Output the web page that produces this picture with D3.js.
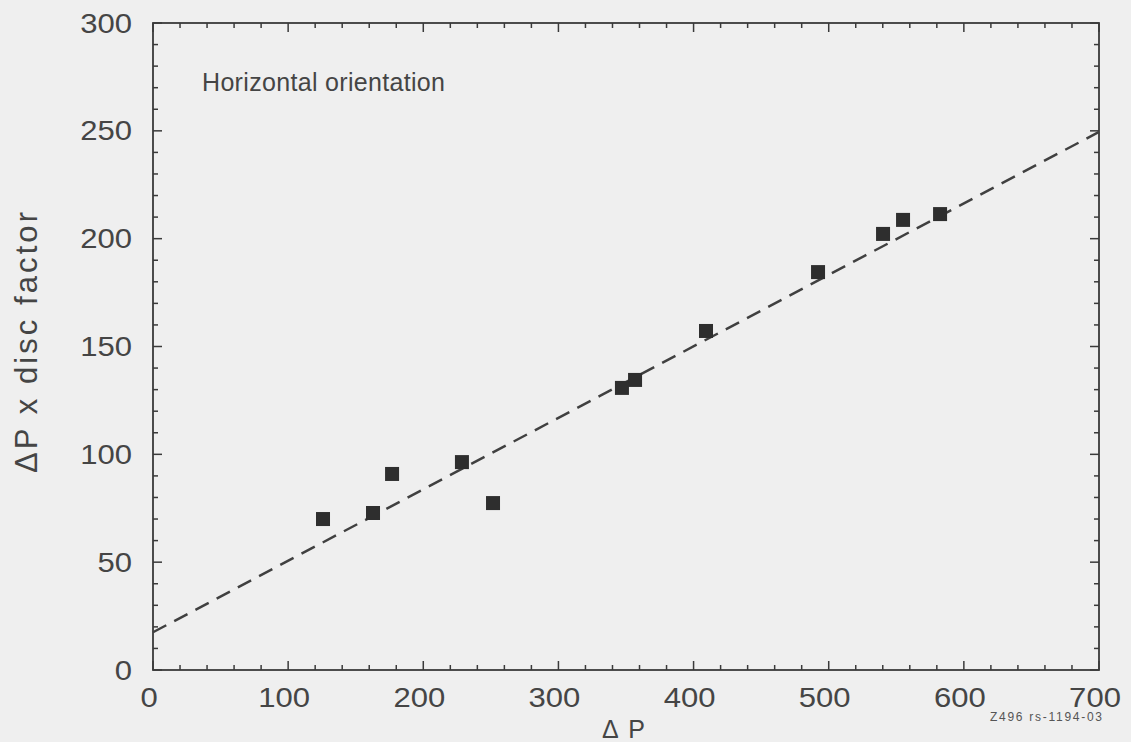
<!DOCTYPE html>
<html><head><meta charset="utf-8">
<script src="https://cdn.jsdelivr.net/npm/d3@7"></script>
<style>body{margin:0;background:#efefef;}svg{display:block;}</style>
</head><body>
<svg id="chart" width="1131" height="742"></svg>
<script>
const deltaP = [125.8, 162.8, 176.9, 228.6, 251.6, 347.0, 356.7, 409.2, 492.1, 540.2, 555.0, 582.4];
const dpDisc = [70.0, 72.8, 90.9, 96.4, 77.4, 130.8, 134.5, 157.2, 184.5, 202.2, 208.7, 211.4];
const fitX = [0, 700];
const fitY = [17.5, 249.5];
const xTicks = [0, 100, 200, 300, 400, 500, 600, 700];
const yTicks = [0, 50, 100, 150, 200, 250, 300];

const svg = d3.select("#chart");
const W = 1131, H = 742;
const m = {left:153, right:1099, top:23, bottom:670};
svg.append("rect").attr("width",W).attr("height",H).attr("fill","#efefef");

const x = d3.scaleLinear().domain([0,700]).range([m.left,m.right]);
const y = d3.scaleLinear().domain([0,300]).range([m.bottom,m.top]);
const ink = "#3a3a3a";
const txt = "#454545";
const font = "Liberation Sans, Arial, sans-serif";

// minor/major ticks inward on all four sides
const xMinor = d3.range(0,701,20), yMinor = d3.range(0,301,10);
const tg = svg.append("g").attr("stroke",ink).attr("stroke-width",1.5);
xMinor.forEach(v=>{
  const len = v%100===0 ? 9 : 5;
  tg.append("line").attr("x1",x(v)).attr("x2",x(v)).attr("y1",m.bottom).attr("y2",m.bottom-len);
  tg.append("line").attr("x1",x(v)).attr("x2",x(v)).attr("y1",m.top).attr("y2",m.top+len);
});
yMinor.forEach(v=>{
  const len = v%50===0 ? 9 : 5;
  tg.append("line").attr("y1",y(v)).attr("y2",y(v)).attr("x1",m.left).attr("x2",m.left+len);
  tg.append("line").attr("y1",y(v)).attr("y2",y(v)).attr("x1",m.right).attr("x2",m.right-len);
});
svg.append("rect").attr("x",m.left).attr("y",m.top).attr("width",m.right-m.left).attr("height",m.bottom-m.top)
  .attr("fill","none").attr("stroke",ink).attr("stroke-width",1.8);

// tick labels (slightly wide, as in the scan)
svg.append("g").selectAll("text").data(xTicks).join("text")
  .attr("transform",d=>`translate(${x(d)-4},707) scale(1.15,1)`).attr("text-anchor","middle")
  .attr("font-family",font).attr("font-size",27).attr("fill",txt).text(d=>d);
svg.append("g").selectAll("text").data(yTicks).join("text")
  .attr("transform",d=>`translate(132,${y(d)+9.5}) scale(1.15,1)`).attr("text-anchor","end")
  .attr("font-family",font).attr("font-size",27).attr("fill",txt).text(d=>d);

// axis titles
svg.append("text").attr("x",602).attr("y",738)
  .attr("font-family",font).attr("font-size",25).attr("fill",txt)
  .attr("textLength",43).attr("lengthAdjust","spacing").text("ΔP");
svg.append("text").attr("transform","translate(37,473) rotate(-90)")
  .attr("font-family",font).attr("font-size",31).attr("fill",txt)
  .attr("textLength",261).attr("lengthAdjust","spacing").text("ΔP x disc factor");

svg.append("text").attr("x",202).attr("y",91).attr("font-family",font).attr("font-size",25)
  .attr("fill",txt).attr("textLength",243).attr("lengthAdjust","spacing").text("Horizontal orientation");
svg.append("text").attr("x",990).attr("y",721).attr("font-family",font)
  .attr("font-size",12).attr("fill","#555").attr("textLength",112).attr("lengthAdjust","spacing")
  .text("Z496 rs-1194-03");

// fit line
const line = d3.line().x(d=>x(d[0])).y(d=>y(d[1]));
svg.append("path").datum(d3.zip(fitX,fitY)).attr("d",line).attr("fill","none")
  .attr("stroke","#404040").attr("stroke-width",2.5).attr("stroke-dasharray","15,9");

// markers
const s = 14;
svg.append("g").selectAll("rect").data(d3.zip(deltaP,dpDisc)).join("rect")
  .attr("x",d=>x(d[0])-s/2).attr("y",d=>y(d[1])-s/2).attr("width",s).attr("height",s)
  .attr("fill","#2e2e2e");
</script>
</body></html>
